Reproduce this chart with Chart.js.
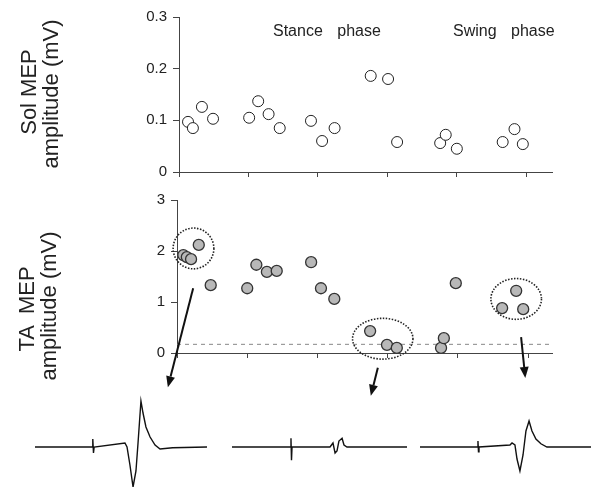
<!DOCTYPE html>
<html>
<head>
<meta charset="utf-8">
<script src="https://cdn.jsdelivr.net/npm/chart.js@4.4.1/dist/chart.umd.min.js"></script>
<style>
  html, body { margin: 0; padding: 0; background: #fff; }
  #wrap { position: relative; width: 591px; height: 487px; overflow: hidden; font-family: 'Liberation Sans', Arial, sans-serif; color: #222; }
  canvas { position: absolute; }
  .ylab { position: absolute; font-size: 22px; line-height: 1; white-space: pre; transform: translate(-50%, -50%) rotate(-90deg); }
  .phase { position: absolute; font-size: 16px; white-space: nowrap; word-spacing: 10px; }
</style>
</head>
<body>
<div id="wrap">
  <canvas id="solChart" width="591" height="190" style="left:0;top:0"></canvas>
  <canvas id="taChart" width="591" height="220" style="left:0;top:180px"></canvas>
  <canvas id="trace1" width="172" height="92" style="left:35px;top:395px"></canvas>
  <canvas id="trace2" width="175" height="92" style="left:232px;top:395px"></canvas>
  <canvas id="trace3" width="172" height="92" style="left:420px;top:395px"></canvas>

  <div class="ylab" style="left:29px;top:92px">Sol MEP</div>
  <div class="ylab" style="left:51px;top:94px">amplitude (mV)</div>
  <div class="ylab" style="left:27px;top:309px">TA  MEP</div>
  <div class="ylab" style="left:49px;top:306px">amplitude (mV)</div>
  <div class="phase" style="left:273px;top:22px">Stance phase</div>
  <div class="phase" style="left:453px;top:22px">Swing phase</div>
</div>
<script>
// Sol MEP (open circles), x = position in step cycle
const solX = [0.13, 0.20, 0.33, 0.49, 1.01, 1.14, 1.29, 1.45, 1.90, 2.06, 2.24, 2.76, 3.01, 3.14, 3.76, 3.84, 4.00, 4.66, 4.83, 4.95];
const solY = [0.097, 0.085, 0.126, 0.103, 0.105, 0.137, 0.112, 0.085, 0.099, 0.060, 0.085, 0.186, 0.180, 0.058, 0.056, 0.072, 0.045, 0.058, 0.083, 0.054];

// TA MEP (filled circles)
const taX = [0.09, 0.14, 0.20, 0.31, 0.48, 1.00, 1.13, 1.28, 1.42, 1.91, 2.05, 2.24, 2.75, 2.99, 3.13, 3.76, 3.80, 3.97, 4.63, 4.83, 4.93];
const taY = [1.92, 1.88, 1.84, 2.12, 1.33, 1.27, 1.73, 1.59, 1.61, 1.78, 1.27, 1.06, 0.43, 0.16, 0.10, 0.10, 0.29, 1.37, 0.88, 1.22, 0.86];
const taThreshold = 0.17;

// tick labels
const solTicks = [0, 0.1, 0.2, 0.3];
const taTicks = [0, 1, 2, 3];

// groups circled on the TA plot and the arrows pointing to their averaged traces
const groupCx = [0.235, 2.93, 4.83];
const groupCy = [2.05, 0.28, 1.06];
const groupRx = [0.29, 0.43, 0.36];
const groupRy = [0.40, 0.40, 0.40];
const arrowFrom = [[0.23, 1.27], [2.86, -0.29], [4.90, 0.31]];
const arrowTo = [[-0.13, -0.67], [2.76, -0.84], [4.96, -0.49]];

// MEP traces (time in ms, amplitude in mV)
const trace1T = [0, 33.2, 33.6, 34.0, 34.4, 52.3, 53.5, 55.2, 57.0, 58.7, 59.9, 61.6, 62.8, 64.5, 66.9, 69.8, 72.7, 80, 100];
const trace1V = [0, 0, 0.2, -0.15, 0, 0.1, 0, -0.45, -1.0, -0.6, 0.1, 1.15, 0.85, 0.5, 0.25, 0.05, -0.05, -0.02, 0];
const trace2T = [0, 33.4, 33.7, 34.0, 34.3, 56, 57.7, 58.9, 60, 61.1, 62.9, 64, 65.7, 100];
const trace2V = [0, 0, 0.22, -0.33, 0, 0, 0.1, -0.15, -0.1, 0.15, 0.22, 0.05, 0, 0];
const trace3T = [0, 33.4, 33.7, 34.0, 34.3, 52.3, 53.5, 55.2, 56.4, 58.1, 59.9, 61.6, 63.4, 65.1, 67.4, 70.3, 73.8, 100];
const trace3V = [0, 0, 0.15, -0.12, 0, 0.05, 0.1, 0.05, -0.3, -0.6, -0.2, 0.4, 0.65, 0.4, 0.2, 0.08, 0, 0];

const FONT = "'Liberation Sans', Arial, sans-serif";
const axisColor = '#444';

function toPoints(xs, ys) {
    return xs.map((x, i) => ({ x: x, y: ys[i] }));
}

// shared axis setup
function xAxis(max, height) {
    return {
        type: 'linear', min: 0, max: max,
        ticks: { display: false, stepSize: 1, includeBounds: false },
        grid: { drawOnChartArea: false, drawTicks: true, tickLength: 5, color: axisColor },
        border: { display: true, color: axisColor, width: 1 },
        afterFit: (scale) => { scale.height = height; }
    };
}
function yAxis(max, step, labels, width) {
    return {
        type: 'linear', min: 0, max: max,
        afterBuildTicks: (scale) => { scale.ticks = labels.map(v => ({ value: v })); },
        ticks: { font: { family: FONT, size: 15 }, color: '#222', padding: 6 },
        grid: { drawOnChartArea: false, drawTicks: true, tickLength: 6, color: axisColor },
        border: { display: true, color: axisColor, width: 1 },
        afterFit: (scale) => { scale.width = width; }
    };
}

// 1. Sol MEP
new Chart(document.getElementById('solChart'), {
    type: 'scatter',
    data: {
        datasets: [{
            data: toPoints(solX, solY),
            backgroundColor: '#fff',
            borderColor: '#222',
            borderWidth: 1,
            pointRadius: 5.5,
            clip: false
        }]
    },
    options: {
        responsive: false,
        animation: false,
        layout: { padding: { left: 0, right: 39, top: 17, bottom: 0 } },
        plugins: { legend: { display: false }, tooltip: { enabled: false } },
        scales: {
            x: xAxis(5.37, 18),
            y: yAxis(0.3, 0.1, solTicks, 179)
        }
    }
});

// circles + arrows on TA plot
const groupPlugin = {
    id: 'groups',
    afterDraw(chart) {
        const ctx = chart.ctx;
        const xs = chart.scales.x, ys = chart.scales.y;
        ctx.save();
        // dotted ellipses
        ctx.strokeStyle = '#222';
        ctx.lineWidth = 1.6;
        ctx.setLineDash([1.5, 1.5]);
        groupCx.forEach((cx, i) => {
            const px = xs.getPixelForValue(cx);
            const py = ys.getPixelForValue(groupCy[i]);
            const rx = Math.abs(xs.getPixelForValue(cx + groupRx[i]) - px);
            const ry = Math.abs(ys.getPixelForValue(groupCy[i] + groupRy[i]) - py);
            ctx.beginPath();
            ctx.ellipse(px, py, rx, ry, 0, 0, Math.PI * 2);
            ctx.stroke();
        });
        // arrows
        ctx.setLineDash([]);
        ctx.fillStyle = '#111';
        ctx.strokeStyle = '#111';
        ctx.lineWidth = 2;
        arrowFrom.forEach((a, i) => {
            const x0 = xs.getPixelForValue(a[0]), y0 = ys.getPixelForValue(a[1]);
            const x1 = xs.getPixelForValue(arrowTo[i][0]), y1 = ys.getPixelForValue(arrowTo[i][1]);
            const ang = Math.atan2(y1 - y0, x1 - x0);
            const head = 11, half = 4.5;
            const bx = x1 - head * Math.cos(ang), by = y1 - head * Math.sin(ang);
            ctx.beginPath();
            ctx.moveTo(x0, y0);
            ctx.lineTo(bx, by);
            ctx.stroke();
            ctx.beginPath();
            ctx.moveTo(x1, y1);
            ctx.lineTo(bx + half * Math.sin(ang), by - half * Math.cos(ang));
            ctx.lineTo(bx - half * Math.sin(ang), by + half * Math.cos(ang));
            ctx.closePath();
            ctx.fill();
        });
        ctx.restore();
    }
};

// 2. TA MEP
const taMax = 5.34;
new Chart(document.getElementById('taChart'), {
    type: 'scatter',
    data: {
        datasets: [{
            type: 'line',
            data: [{ x: 0, y: taThreshold }, { x: taMax, y: taThreshold }],
            borderColor: '#888',
            borderWidth: 1,
            borderDash: [4, 4],
            pointRadius: 0,
            order: 2
        }, {
            data: toPoints(taX, taY),
            backgroundColor: '#b8b8b8',
            borderColor: '#333',
            borderWidth: 1.3,
            pointRadius: 5.5,
            clip: false,
            order: 1
        }]
    },
    options: {
        responsive: false,
        animation: false,
        layout: { padding: { left: 0, right: 39, top: 20, bottom: 0 } },
        plugins: { legend: { display: false }, tooltip: { enabled: false } },
        scales: {
            x: xAxis(taMax, 47),
            y: yAxis(3, 1, taTicks, 177)
        }
    },
    plugins: [groupPlugin]
});

// 3. traces
function traceChart(id, ts, vs) {
    new Chart(document.getElementById(id), {
        type: 'line',
        data: {
            datasets: [{
                data: toPoints(ts, vs),
                borderColor: '#111',
                borderWidth: 1.4,
                pointRadius: 0,
                tension: 0,
                clip: false
            }]
        },
        options: {
            responsive: false,
            animation: false,
            layout: { padding: 0 },
            plugins: { legend: { display: false }, tooltip: { enabled: false } },
            scales: {
                x: { type: 'linear', min: 0, max: 100, display: false },
                y: { min: -1.0, max: 1.3, display: false }
            }
        }
    });
}
traceChart('trace1', trace1T, trace1V);
traceChart('trace2', trace2T, trace2V);
traceChart('trace3', trace3T, trace3V);
</script>
</body>
</html>
